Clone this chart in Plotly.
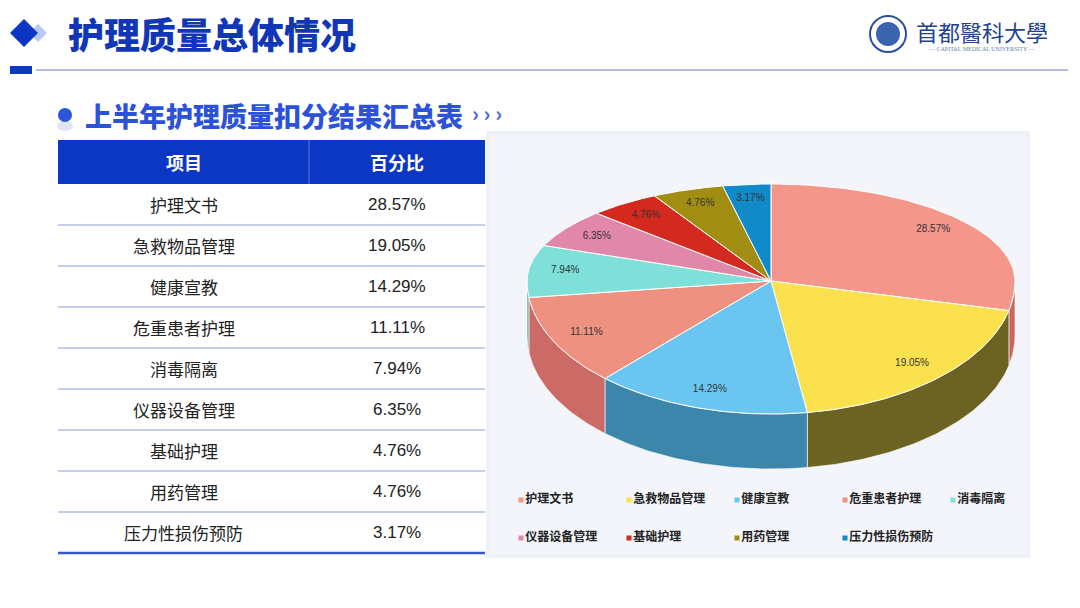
import numpy as np
import plotly.graph_objects as go

# ---- data ----
categories = ["护理文书", "急救物品管理", "健康宣教", "危重患者护理", "消毒隔离",
              "仪器设备管理", "基础护理", "用药管理", "压力性损伤预防"]
percents = [28.57, 19.05, 14.29, 11.11, 7.94, 6.35, 4.76, 4.76, 3.17]
header = ["项目", "百分比"]

top_colors = ["#f4968a", "#fbe14e", "#6ac6f0", "#ee9180", "#7fe0da",
              "#e187aa", "#d3291f", "#a18d12", "#118ac9"]
side_colors = ["#c8675e", "#6c6222", "#3c86ac", "#cc6a66", "#55aaa6",
               "#b0607e", "#9a1d16", "#6c5f0c", "#0b6394"]

W, H = 1080, 608
PAGE_MARGIN = 8  # the html body has a default 8px margin
FONT = "Noto Sans CJK SC"
BLUE = "#0c37c4"

# pie geometry (pixel space)
cx, cy = 771, 281
rx, ry_back, ry_front = 244, 97, 133
depth = 55


def pie_pt(phi, dy=0.0):
    ry = np.where(np.cos(phi) >= 0, ry_back, ry_front)
    return cx + rx * np.sin(phi), cy - ry * np.cos(phi) + dy


fig = go.Figure()

bounds = np.concatenate([[0], np.cumsum(percents)]) / sum(percents) * 2 * np.pi

# side walls (front half only)
for i, cat in enumerate(categories):
    a, b = max(bounds[i], np.pi / 2), min(bounds[i + 1], 1.5 * np.pi)
    if b <= a:
        continue
    phi = np.linspace(a, b, 60)
    xt, yt = pie_pt(phi)
    xb, yb = pie_pt(phi[::-1], depth)
    fig.add_trace(go.Scatter(
        x=np.concatenate([xt, xb, xt[:1]]), y=np.concatenate([yt, yb, yt[:1]]),
        mode="lines", fill="toself", fillcolor=side_colors[i],
        line=dict(color="rgba(255,255,255,0.6)", width=1),
        hoverinfo="skip", showlegend=False))

# top faces
for i, cat in enumerate(categories):
    phi = np.linspace(bounds[i], bounds[i + 1], 80)
    xs, ys = pie_pt(phi)
    fig.add_trace(go.Scatter(
        x=np.concatenate([[cx], xs, [cx]]), y=np.concatenate([[cy], ys, [cy]]),
        mode="lines", fill="toself", fillcolor=top_colors[i],
        line=dict(color="white", width=1),
        name=cat, text=f"{cat}: {percents[i]:.2f}%", hoverinfo="text",
        showlegend=False))

# percent labels
mid = (bounds[:-1] + bounds[1:]) / 2
lx, ly = pie_pt(mid)
lx = cx + (lx - cx) * 0.85
ly = cy + (ly - cy) * 0.85
fig.add_trace(go.Scatter(
    x=lx, y=ly, mode="text", text=[f"{p:.2f}%" for p in percents],
    textfont=dict(family="Liberation Sans", size=10, color="#333333"),
    hoverinfo="skip", showlegend=False))

# legend (two rows of five)
idx = np.arange(len(categories))
leg_x = 521 + 108 * (idx % 5)
leg_y = 500 + 38 * (idx // 5)
fig.add_trace(go.Scatter(
    x=leg_x, y=leg_y, mode="markers+text", text=categories,
    textposition="middle right",
    marker=dict(symbol="square", size=5, color=top_colors),
    textfont=dict(family=FONT, size=12, color="#222222", weight="bold"),
    hoverinfo="skip", showlegend=False))

shapes = []
annotations = []

# right-hand panel background
shapes.append(dict(type="rect", xref="x", yref="y", x0=486, x1=1030, y0=131, y1=558,
                   fillcolor="#eef1f7", line=dict(width=0), layer="below"))
shapes.append(dict(type="rect", xref="x", yref="y", x0=490, x1=1026, y0=135, y1=554,
                   fillcolor="#f3f5fa", line=dict(width=0), layer="below"))

# title block
shapes.append(dict(type="path", xref="x", yref="y",
                   path="M 38 24 L 47 33 L 38 42 L 29 33 Z",
                   fillcolor="#b9c8f5", line=dict(width=0)))
shapes.append(dict(type="path", xref="x", yref="y",
                   path="M 24 19 L 38 33 L 24 47 L 10 33 Z",
                   fillcolor=BLUE, line=dict(width=0)))
shapes.append(dict(type="rect", xref="x", yref="y", x0=10, x1=32, y0=66, y1=74,
                   fillcolor=BLUE, line=dict(width=0)))
shapes.append(dict(type="line", xref="x", yref="y", x0=36, x1=1068, y0=70, y1=70,
                   line=dict(color="#b3bfdf", width=2)))
annotations.append(dict(x=66, y=33, xref="x", yref="y", text="护理质量总体情况",
                        showarrow=False, xanchor="left", yanchor="middle",
                        font=dict(family=FONT, size=36, color="#1236b8", weight=900)))

# subtitle
shapes.append(dict(type="circle", xref="x", yref="y", x0=57, x1=73, y0=121, y1=131,
                   fillcolor="#dfe5f6", line=dict(width=0)))
shapes.append(dict(type="circle", xref="x", yref="y", x0=58, x1=72, y0=108, y1=122,
                   fillcolor="#2d55dc", line=dict(width=0)))
annotations.append(dict(x=83, y=115, xref="x", yref="y", text="上半年护理质量扣分结果汇总表",
                        showarrow=False, xanchor="left", yanchor="middle",
                        font=dict(family=FONT, size=27, color="#2b52d8", weight=900)))
annotations.append(dict(x=470, y=113, xref="x", yref="y", text="<b>› › ›</b>",
                        showarrow=False, xanchor="left", yanchor="middle",
                        font=dict(family=FONT, size=21, color="#4466d8")))

# logo
shapes.append(dict(type="circle", xref="x", yref="y", x0=870, x1=906, y0=16, y1=52,
                   fillcolor="white", line=dict(color="#2c4f9a", width=2)))
shapes.append(dict(type="circle", xref="x", yref="y", x0=876, x1=900, y0=22, y1=46,
                   fillcolor="#3a64ad", line=dict(width=0)))
annotations.append(dict(x=982, y=31, xref="x", yref="y", text="首都醫科大學",
                        showarrow=False, xanchor="center", yanchor="middle",
                        font=dict(family="Noto Sans CJK TC", size=22, color="#23418f")))
annotations.append(dict(x=982, y=49, xref="x", yref="y", text="— CAPITAL MEDICAL UNIVERSITY —",
                        showarrow=False, xanchor="center", yanchor="middle",
                        font=dict(family="Liberation Serif", size=6, color="#6a7cae")))

# table
tx0, tx1, tsplit = 58, 485, 309
head_y0, head_y1, row_h = 140, 184, 41
shapes.append(dict(type="rect", xref="x", yref="y", x0=tx0, x1=tx1, y0=head_y0, y1=head_y1,
                   fillcolor=BLUE, line=dict(width=0)))
shapes.append(dict(type="rect", xref="x", yref="y", x0=tx0, x1=tx1,
                   y0=head_y1, y1=head_y1 + row_h * len(categories),
                   fillcolor="white", line=dict(width=0)))
shapes.append(dict(type="line", xref="x", yref="y", x0=tsplit, x1=tsplit, y0=head_y0, y1=head_y1,
                   line=dict(color="#5f7fe3", width=1)))
col_cx = [(tx0 + tsplit) / 2, (tsplit + tx1) / 2]
for j, h in enumerate(header):
    annotations.append(dict(x=col_cx[j], y=(head_y0 + head_y1) / 2, xref="x", yref="y",
                            text=f"<b>{h}</b>", showarrow=False,
                            font=dict(family=FONT, size=18, color="white")))
for i, (cat, p) in enumerate(zip(categories, percents)):
    yc = head_y1 + row_h * (i + 0.5)
    annotations.append(dict(x=col_cx[0], y=yc, xref="x", yref="y", text=cat, showarrow=False,
                            font=dict(family=FONT, size=17, color="#222222")))
    annotations.append(dict(x=col_cx[1], y=yc, xref="x", yref="y", text=f"{p:.2f}%",
                            showarrow=False,
                            font=dict(family="Liberation Sans", size=17, color="#222222")))
    y_line = head_y1 + row_h * (i + 1)
    last = i == len(categories) - 1
    shapes.append(dict(type="line", xref="x", yref="y", x0=tx0, x1=tx1, y0=y_line, y1=y_line,
                       line=dict(color="#3557c8" if last else "#b0bde6",
                                 width=2.5 if last else 1.5)))

fig.update_layout(
    width=W - PAGE_MARGIN, height=H - PAGE_MARGIN,
    margin=dict(l=0, r=0, t=0, b=0),
    paper_bgcolor="white", plot_bgcolor="white",
    xaxis=dict(range=[PAGE_MARGIN, W], visible=False, fixedrange=True),
    yaxis=dict(range=[H, PAGE_MARGIN], visible=False, fixedrange=True),
    shapes=shapes, annotations=annotations,
    showlegend=False,
)

fig.write_html("out.html")
